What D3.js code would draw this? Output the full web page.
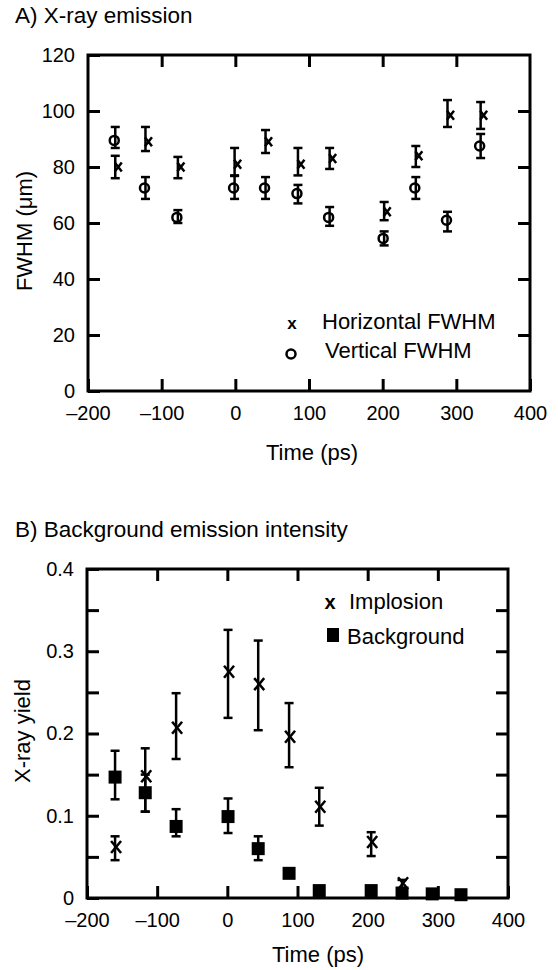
<!DOCTYPE html>
<html>
<head>
<meta charset="utf-8">
<script src="https://cdn.jsdelivr.net/npm/d3@7"></script>
<style>
	body { margin: 0; background: #fff; }
	svg { font-family: "Liberation Sans", Arial, sans-serif; }
	.frame { fill: none; stroke: #000; stroke-width: 3; }
	.tick line { stroke: #000; stroke-width: 3; }
	.tick text { font-size: 20px; fill: #000; }
	.err { stroke: #000; stroke-width: 2.5; fill: none; }
	.label { font-size: 22px; fill: #000; }
	.title { font-size: 22.5px; fill: #000; }
</style>
</head>
<body>
<svg id="main" width="558" height="970"></svg>
<script>
// A) X-ray emission
let timesA = [-163, -122, -78, -1, 41, 85, 128, 202, 245, 288, 333];
let horiz = [80, 89, 80, 81, 89, 81, 83, 64, 84, 98.5, 98.5];
let horizLo = [76, 85.7, 76, 77, 85, 77, 79.3, 61, 80, 94.3, 93.6];
let horizHi = [84, 94.3, 83.6, 86.8, 93.2, 86.8, 86.8, 67.5, 87.5, 103.9, 103.2];
let vert = [89.5, 72.5, 62, 72.5, 72.5, 70.5, 62, 54.5, 72.5, 61, 87.5];
let vertLo = [86.8, 68.6, 60, 68.6, 68.6, 67, 59, 52, 68.6, 57, 83.2];
let vertHi = [94.3, 76.4, 64.6, 76.8, 76.4, 73.6, 65.7, 57, 76.4, 64, 91.8];
let ticksAx = [-200, -100, 0, 100, 200, 300, 400];
let ticksAy = [0, 20, 40, 60, 80, 100, 120];

// B) Background emission intensity
let timesB = [-160, -117, -73, 1, 44, 88, 131, 205, 249];
let implosion = [0.062, 0.148, 0.207, 0.275, 0.260, 0.196, 0.111, 0.068, 0.018];
let implLo = [0.046, 0.105, 0.169, 0.219, 0.204, 0.159, 0.088, 0.051, 0.012];
let implHi = [0.075, 0.182, 0.249, 0.326, 0.313, 0.237, 0.134, 0.080, 0.022];
let timesBg = [-160, -117, -73, 1, 44, 88, 131, 205, 249, 292, 333];
let background = [0.147, 0.128, 0.087, 0.099, 0.060, 0.030, 0.009, 0.009, 0.006, 0.005, 0.004];
let bgLo = [0.120, 0.105, 0.075, 0.079, 0.046, 0.030, 0.009, 0.009, 0.006, 0.005, 0.004];
let bgHi = [0.179, 0.150, 0.108, 0.121, 0.075, 0.030, 0.009, 0.009, 0.006, 0.005, 0.004];
let ticksBx = [-200, -100, 0, 100, 200, 300, 400];
let ticksBy = [0, 0.05, 0.1, 0.15, 0.2, 0.25, 0.3, 0.35, 0.4];

let svg = d3.select("#main");

function fmt_time(d) {
	return d < 0 ? "\u2013" + Math.abs(d) : String(d);
}

function zip(xs, ys, lo, hi) {
	return xs.map(function (t, i) {
		return {t: t, v: ys[i], lo: lo[i], hi: hi[i]};
	});
}

// frame with inward ticks on all four sides
function draw_frame(g, x, y, xticks, yticks, yfmt) {
	let w = x.range()[1], h = y.range()[0];
	let inner = xticks.slice(1, -1);
	g.append("g").attr("transform", "translate(0," + h + ")")
		.call(d3.axisBottom(x).tickValues(xticks).tickSize(-12).tickPadding(15).tickFormat(fmt_time));
	g.append("g")
		.call(d3.axisTop(x).tickValues(inner).tickSize(-12).tickFormat(""));
	g.append("g")
		.call(d3.axisLeft(y).tickValues(yticks).tickSize(-12).tickPadding(13).tickFormat(yfmt));
	g.append("g").attr("transform", "translate(" + w + ",0)")
		.call(d3.axisRight(y).tickValues(yticks.slice(1, -1)).tickSize(-12).tickFormat(""));
	g.selectAll(".domain").remove();
	g.selectAll(".tick text").attr("font-family", null).attr("font-size", null);
	g.append("rect").attr("class", "frame").attr("width", w).attr("height", h);
}

function draw_errbars(g, x, y, data, cap) {
	let bars = g.append("g").selectAll("g")
		.data(data.filter(function (d) { return d.hi > d.lo; }))
		.enter().append("g");
	bars.append("line").attr("class", "err")
		.attr("x1", function (d) { return x(d.t); }).attr("x2", function (d) { return x(d.t); })
		.attr("y1", function (d) { return y(d.lo); }).attr("y2", function (d) { return y(d.hi); });
	["lo", "hi"].forEach(function (k) {
		bars.append("line").attr("class", "err")
			.attr("x1", function (d) { return x(d.t) - cap; }).attr("x2", function (d) { return x(d.t) + cap; })
			.attr("y1", function (d) { return y(d[k]); }).attr("y2", function (d) { return y(d[k]); });
	});
}

function draw_xmarks(g, x, y, data, hw, hh, dx) {
	g.append("g").selectAll("path").data(data).enter().append("path")
		.attr("class", "err")
		.attr("d", function (d) {
			let cx = x(d.t) + dx, cy = y(d.v);
			return "M" + (cx - hw) + "," + (cy - hh) + "L" + (cx + hw) + "," + (cy + hh)
				+ "M" + (cx - hw) + "," + (cy + hh) + "L" + (cx + hw) + "," + (cy - hh);
		});
}

// ---------- chart A ----------
let gA = svg.append("g").attr("transform", "translate(88,55)");
let xA = d3.scaleLinear().domain([-200, 400]).range([0, 442]);
let yA = d3.scaleLinear().domain([0, 120]).range([336, 0]);

svg.append("text").attr("class", "title").attr("x", 15).attr("y", 23).text("A) X-ray emission");
draw_frame(gA, xA, yA, ticksAx, ticksAy, function (d) { return d; });

let horizData = zip(timesA, horiz, horizLo, horizHi);
let vertData = zip(timesA, vert, vertLo, vertHi);
draw_errbars(gA, xA, yA, vertData, 4.5);
draw_errbars(gA, xA, yA, horizData, 4.5);
gA.append("g").selectAll("circle").data(vertData).enter().append("circle")
	.attr("cx", function (d) { return xA(d.t) - 1; })
	.attr("cy", function (d) { return yA(d.v); })
	.attr("r", 4.5).attr("fill", "none").attr("stroke", "#000").attr("stroke-width", 2.5);
draw_xmarks(gA, xA, yA, horizData, 3.5, 4.5, 3);

// legend A
svg.append("text").attr("x", 292).attr("y", 329).attr("text-anchor", "middle")
	.attr("font-size", 17).attr("font-weight", "bold").text("x");
svg.append("text").attr("class", "label").attr("x", 322).attr("y", 329).text("Horizontal FWHM");
svg.append("circle").attr("cx", 291).attr("cy", 354).attr("r", 4.5)
	.attr("fill", "none").attr("stroke", "#000").attr("stroke-width", 2.5);
svg.append("text").attr("class", "label").attr("x", 325).attr("y", 358).text("Vertical FWHM");

svg.append("text").attr("class", "label").attr("x", 312).attr("y", 460)
	.attr("text-anchor", "middle").text("Time (ps)");
svg.append("text").attr("class", "label")
	.attr("transform", "translate(32,231) rotate(-90)")
	.attr("text-anchor", "middle").text("FWHM (\u03bcm)");

// ---------- chart B ----------
let gB = svg.append("g").attr("transform", "translate(87,569)");
let xB = d3.scaleLinear().domain([-200, 400]).range([0, 421]);
let yB = d3.scaleLinear().domain([0, 0.4]).range([329, 0]);

svg.append("text").attr("class", "title").attr("x", 15).attr("y", 537)
	.text("B) Background emission intensity");
draw_frame(gB, xB, yB, ticksBx, ticksBy, function (d) {
	let r = Math.round(d * 100);
	if (r % 10 != 0) return "";
	return r == 0 ? "0" : d3.format(".1f")(d);
});

let implData = zip(timesB, implosion, implLo, implHi);
let bgData = zip(timesBg, background, bgLo, bgHi);
draw_errbars(gB, xB, yB, bgData, 4.5);
draw_errbars(gB, xB, yB, implData, 4.5);
let sq = 13;
gB.append("g").selectAll("rect").data(bgData).enter().append("rect")
	.attr("x", function (d) { return xB(d.t) - sq / 2; })
	.attr("y", function (d) { return yB(d.v) - sq / 2; })
	.attr("width", sq).attr("height", sq).attr("fill", "#000");
draw_xmarks(gB, xB, yB, implData, 5, 6, 1);

// legend B
svg.append("text").attr("x", 330).attr("y", 609).attr("text-anchor", "middle")
	.attr("font-size", 20).attr("font-weight", "bold").text("x");
svg.append("text").attr("class", "label").attr("x", 349).attr("y", 609).text("Implosion");
svg.append("rect").attr("x", 327).attr("y", 628).attr("width", 12).attr("height", 14).attr("fill", "#000");
svg.append("text").attr("class", "label").attr("x", 347).attr("y", 644).text("Background");

svg.append("text").attr("class", "label").attr("x", 318).attr("y", 962)
	.attr("text-anchor", "middle").text("Time (ps)");
svg.append("text").attr("class", "label")
	.attr("transform", "translate(30,731) rotate(-90)")
	.attr("text-anchor", "middle").text("X-ray yield");
</script>
</body>
</html>
